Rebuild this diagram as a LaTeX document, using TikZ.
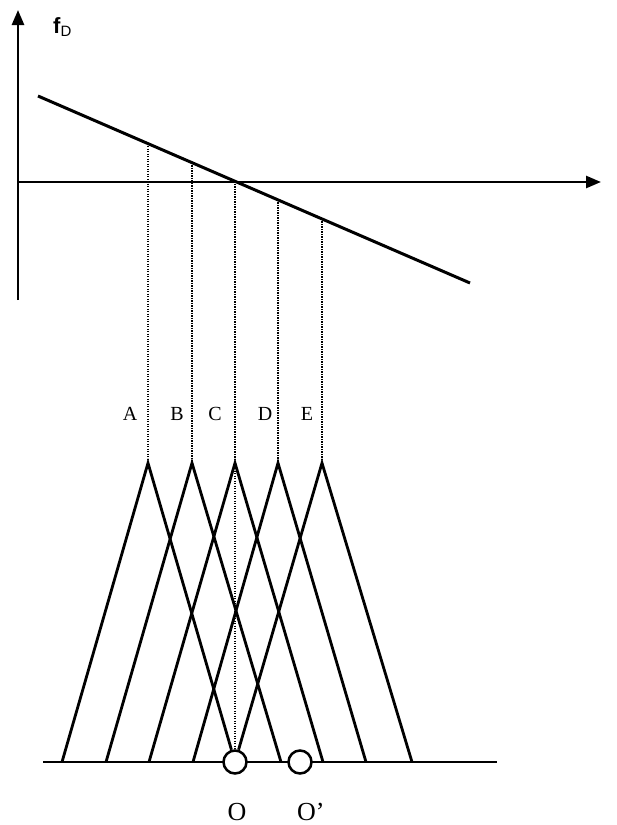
\documentclass[tikz,border=0pt]{standalone}
\usepackage{fontspec}
\setmainfont{Liberation Serif}
\newfontfamily\axfont{Liberation Sans}
\usetikzlibrary{arrows.meta}
\begin{document}
\begin{tikzpicture}[x=1pt,y=-1pt,
  thick line/.style={line width=3pt},
  leg/.style={line width=2.8pt},
  dotline/.style={line width=1.5pt, dash pattern=on 1.3pt off 1.2pt},
  axis/.style={line width=2.6pt,-{Triangle[length=15pt,width=12pt]}},
  lbl/.style={font=\fontsize{20}{22}\selectfont, inner sep=0pt},
  olbl/.style={font=\fontsize{26}{28}\selectfont, inner sep=0pt},
  ring/.style={circle, draw, line width=2.5pt, fill=white, minimum size=23pt, inner sep=0pt}]
\useasboundingbox (0,0) rectangle (617,825);
% axes
\coordinate (vb) at (18,300);
\coordinate (vt) at (18,10);
\coordinate (hl) at (17,182);
\coordinate (hr) at (601,182);
\draw[axis] (vb) -- (vt);
\draw[axis] (hl) -- (hr);
\node[inner sep=0pt, anchor=west] (fD) at (53,27) {\axfont\fontsize{22}{23}\selectfont\textbf{f}\raisebox{-0.3ex}{\fontsize{15}{16}\selectfont D}};
% sloped line
\coordinate (L1) at (38,96);
\coordinate (L2) at (470,283);
\draw[thick line] (L1) -- (L2);
% dotted tops on line
\coordinate (tA) at (148,143.6);
\coordinate (tB) at (192,162.7);
\coordinate (tC) at (235,181.3);
\coordinate (tD) at (278,199.9);
\coordinate (tE) at (322,218.9);
% apexes
\coordinate (aA) at (148,463);
\coordinate (aB) at (192,463);
\coordinate (aC) at (235,463);
\coordinate (aD) at (278,463);
\coordinate (aE) at (322,463);
% baseline
\coordinate (bl) at (43,762);
\coordinate (br) at (497,762);
\draw[line width=2.2pt] (bl) -- (br);
% circles
\node[ring] (O) at (235,762) {};
\node[ring] (Op) at (300,762) {};
% feet
\coordinate (fA) at (62,762);
\coordinate (fB) at (106,762);
\coordinate (fC) at (149,762);
\coordinate (fD1) at (193,762);
\coordinate (fBr) at (281,762);
\coordinate (fCr) at (323,762);
\coordinate (fDr) at (366,762);
\coordinate (fEr) at (412,762);
% dotted verticals
\draw[dotline] (tA) -- (aA);
\draw[dotline] (tB) -- (aB);
\draw[dotline] (tC) -- (aC);
\draw[dotline] (tD) -- (aD);
\draw[dotline] (tE) -- (aE);
\draw[dotline] (aC) -- (O);
% triangles
\draw[leg] (fA) -- (aA) -- (O);
\draw[leg] (fB) -- (aB) -- (fBr);
\draw[leg] (fC) -- (aC) -- (fCr);
\draw[leg] (fD1) -- (aD) -- (fDr);
\draw[leg] (O) -- (aE) -- (fEr);
% labels
\node[lbl] (lA) at (130,414) {A};
\node[lbl] (lB) at (177,414) {B};
\node[lbl] (lC) at (215,414) {C};
\node[lbl] (lD) at (265,414) {D};
\node[lbl] (lE) at (307,414) {E};
\node[olbl] (lO) at (237,812) {O};
\node[olbl, anchor=west] (lOp) at (297,812) {O’};
\end{tikzpicture}
\end{document}
